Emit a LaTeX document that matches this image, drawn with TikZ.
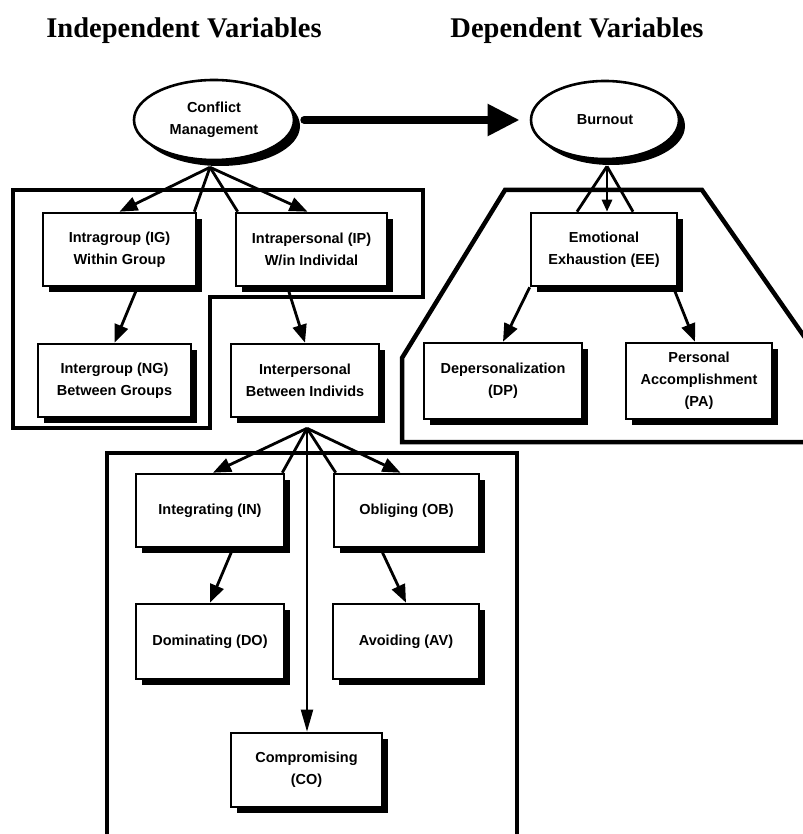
\documentclass[tikz,border=0pt]{standalone}
\usepackage{fontspec}
\setmainfont{Liberation Serif}
\setsansfont{Liberation Sans}
\usetikzlibrary{arrows.meta,shapes.geometric,shadows,calc,backgrounds}
\begin{document}
\begin{tikzpicture}[x=1pt,y=-1pt,
  boxshadow/.style={drop shadow={shadow xshift=6pt,shadow yshift=-6pt,opacity=1,fill=black}},
  varbox/.style={draw,line width=2.6pt,fill=white,inner sep=0pt,align=center,
    font=\sffamily\bfseries\fontsize{14.5}{22}\selectfont,boxshadow},
  varoval/.style={varbox,ellipse},
  frame/.style={line width=4.5pt,line join=miter},
  link/.style={line width=2.8pt},
  arr/.style={link,-{Triangle[length=18pt,width=14pt]}},
  heading/.style={font=\bfseries\fontsize{28.5}{34}\selectfont,anchor=base}
]
\useasboundingbox (0,0) rectangle (802,834);

% column headings
\node[heading] (indep) at (184,38) {Independent Variables};
\node[heading] (dep) at (577,38) {Dependent Variables};

% group frames
\draw[frame] (13,190) -- (423,190) -- (423,297) -- (210,297) -- (210,428) -- (13,428) -- cycle;
\draw[frame] (815,352) -- (702,190) -- (505,190) -- (402,358) -- (402,442) -- (815,442);
\draw[frame] (107,840) -- (107,453) -- (517,453) -- (517,840);

% constructs
\node[varoval,minimum width=160pt,minimum height=80pt] (CM) at (214,120) {Conflict\\Management};
\node[varoval,minimum width=148pt,minimum height=78pt] (BO) at (605,120) {Burnout};

% conflict management facets
\node[varbox,minimum width=153pt,minimum height=73pt] (IG) at (119.5,249.5) {Intragroup (IG)\\Within Group};
\node[varbox,minimum width=151pt,minimum height=73pt] (IP) at (311.5,249.5) {Intrapersonal (IP)\\W/in Individal};
\node[varbox,minimum width=153pt,minimum height=73pt] (NG) at (114.5,380.5) {Intergroup (NG)\\Between Groups};
\node[varbox,minimum width=148pt,minimum height=73pt] (IPB) at (305,380.5) {Interpersonal\\Between Individs};

% conflict handling styles
\node[varbox,minimum width=148pt,minimum height=73pt] (IN) at (210,510.5) {Integrating (IN)};
\node[varbox,minimum width=145pt,minimum height=73pt] (OB) at (406.5,510.5) {Obliging (OB)};
\node[varbox,minimum width=148pt,minimum height=75pt] (DO) at (210,641.5) {Dominating (DO)};
\node[varbox,minimum width=146pt,minimum height=75pt] (AV) at (406,641.5) {Avoiding (AV)};
\node[varbox,minimum width=151pt,minimum height=74pt] (CO) at (306.5,770) {Compromising\\(CO)};

% burnout dimensions
\node[varbox,minimum width=146pt,minimum height=73pt] (EE) at (604,249.5) {Emotional\\Exhaustion (EE)};
\node[varbox,minimum width=158pt,minimum height=76pt] (DP) at (503,381) {Depersonalization\\(DP)};
\node[varbox,minimum width=146pt,minimum height=76pt] (PA) at (699,381) {Personal\\Accomplishment\\(PA)};

% fan-out points under the parent shapes
\coordinate (cmfan) at ($(CM.south)+(-4,6)$);
\coordinate (bofan) at ($(BO.south)+(2,6)$);
\coordinate (ipfan) at ($(IPB.south)+(2,10)$);

% main effect
\draw[line width=8pt,line cap=round,shorten <=9pt,shorten >=10pt,
  -{Triangle[length=32pt,width=30pt]}] (CM.east) -- (CM.east -| BO.west);

\begin{scope}[on background layer]
  \draw[arr] (cmfan) -- (IG.north);
  \draw[link] (cmfan) -- ([xshift=-3pt]IG.north east);
  \draw[link] (cmfan) -- ([xshift=3pt]IP.north west);
  \draw[arr] (cmfan) -- ([xshift=-4pt]IP.north);
  \draw[arr] ([xshift=18pt]IG.south) -- (NG.north);
  \draw[arr] ([xshift=-24pt]IP.south) -- (IPB.north);

  \draw[link] (bofan) -- ([xshift=-27pt]EE.north);
  \draw[link,-{Triangle[length=12pt,width=10pt]}] (bofan) -- ([xshift=3pt]EE.north);
  \draw[link] (bofan) -- ([xshift=29pt]EE.north);
  \draw[arr] (EE.south west) -- (DP.north);
  \draw[arr] ([xshift=-5pt]EE.south east) -- ([xshift=-4pt]PA.north);

  \draw[arr] (ipfan) -- ([xshift=3pt]IN.north);
  \draw[link] (ipfan) -- ([xshift=-3pt]IN.north east);
  \draw[line width=2pt,-{Triangle[length=22pt,width=12pt]}] (ipfan) -- (ipfan |- CO.north);
  \draw[link] (ipfan) -- ([xshift=3pt]OB.north west);
  \draw[arr] (ipfan) -- ([xshift=-6pt]OB.north);
  \draw[arr] ([xshift=23pt]IN.south) -- (DO.north);
  \draw[arr] ([xshift=-26pt]OB.south) -- (AV.north);
\end{scope}
\end{tikzpicture}
\end{document}
